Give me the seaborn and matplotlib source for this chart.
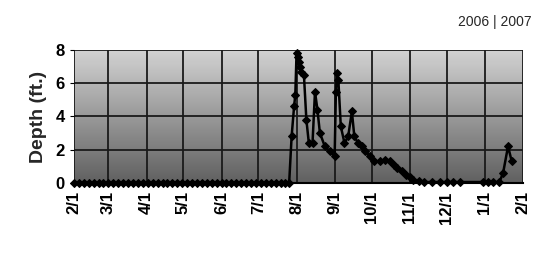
import numpy as np
import pandas as pd
import matplotlib
matplotlib.use("Agg")
import matplotlib.pyplot as plt
import matplotlib.dates as mdates
import seaborn as sns

# depth readings (ft.), Feb 2006 - Jan 2007
dates = [
    "2006-02-01", "2006-02-05", "2006-02-09", "2006-02-13", "2006-02-17", "2006-02-21", "2006-02-25",
    "2006-03-01", "2006-03-05", "2006-03-09", "2006-03-13", "2006-03-17", "2006-03-21", "2006-03-25", "2006-03-29",
    "2006-04-02", "2006-04-06", "2006-04-10", "2006-04-14", "2006-04-18", "2006-04-22", "2006-04-26", "2006-04-30",
    "2006-05-04", "2006-05-08", "2006-05-12", "2006-05-16", "2006-05-20", "2006-05-24", "2006-05-28",
    "2006-06-01", "2006-06-05", "2006-06-09", "2006-06-13", "2006-06-17", "2006-06-21", "2006-06-25", "2006-06-29",
    "2006-07-03", "2006-07-07", "2006-07-11", "2006-07-15", "2006-07-19", "2006-07-23", "2006-07-26",
    "2006-07-28", "2006-07-30", "2006-07-31",
    "2006-08-01", "2006-08-02", "2006-08-03", "2006-08-04", "2006-08-05", "2006-08-07", "2006-08-09",
    "2006-08-11", "2006-08-14", "2006-08-16", "2006-08-18", "2006-08-20", "2006-08-24", "2006-08-28",
    "2006-09-01", "2006-09-02", "2006-09-03", "2006-09-04", "2006-09-06", "2006-09-09", "2006-09-12",
    "2006-09-15", "2006-09-17", "2006-09-20", "2006-09-23", "2006-09-26", "2006-09-30",
    "2006-10-03", "2006-10-08", "2006-10-12", "2006-10-16", "2006-10-19", "2006-10-22", "2006-10-26", "2006-10-29",
    "2006-11-01", "2006-11-04", "2006-11-09", "2006-11-13", "2006-11-19", "2006-11-26",
    "2006-12-01", "2006-12-06", "2006-12-12", "2006-12-31",
    "2007-01-04", "2007-01-08", "2007-01-13", "2007-01-16", "2007-01-20", "2007-01-23",
]
depth = [
    0, 0, 0, 0, 0, 0, 0,
    0, 0, 0, 0, 0, 0, 0, 0,
    0, 0, 0, 0, 0, 0, 0, 0,
    0, 0, 0, 0, 0, 0, 0,
    0, 0, 0, 0, 0, 0, 0, 0,
    0, 0, 0, 0, 0, 0, 0,
    2.8, 4.6, 5.3,
    7.8, 7.6, 7.3, 7.0, 6.7, 6.5, 3.8,
    2.4, 2.4, 5.5, 4.4, 3.0, 2.2, 1.9,
    1.6, 5.5, 6.6, 6.2, 3.4, 2.4, 2.8,
    4.3, 2.8, 2.4, 2.2, 1.9, 1.6,
    1.3, 1.3, 1.4, 1.3, 1.1, 0.9, 0.7, 0.5,
    0.35, 0.15, 0.1, 0.05, 0.05, 0.05,
    0.05, 0.05, 0.05, 0.05,
    0.05, 0.05, 0.05, 0.6, 2.2, 1.3,
]
yticks = [0, 2, 4, 6, 8]

df = pd.DataFrame({"date": pd.to_datetime(dates), "depth": depth})

sns.set_style("white")
plt.rcParams["font.family"] = ["Liberation Sans", "DejaVu Sans"]

fig = plt.figure(figsize=(5.44, 2.62), dpi=100)
ax = fig.add_axes([0.136, 0.302, 0.825, 0.507])

x0, x1 = mdates.date2num(pd.Timestamp("2006-02-01")), mdates.date2num(pd.Timestamp("2007-02-01"))

# grey gradient fill behind the plot (dark at top)
grad = np.linspace(0.38, 0.82, 64).reshape(-1, 1)
ax.imshow(grad, extent=[x0, x1, 8, 0], aspect="auto", cmap="gray", vmin=0, vmax=1,
          zorder=0, interpolation="bilinear")

sns.lineplot(data=df, x="date", y="depth", color="black", linewidth=1.8,
             marker="D", markersize=4.5, markeredgecolor="black", ax=ax,
             zorder=3, clip_on=False)

ax.set_xlim(x0, x1)
ax.set_ylim(0, 8)
ax.set_yticks(yticks)
ax.xaxis.set_major_locator(mdates.MonthLocator())
ax.xaxis.set_major_formatter(mdates.DateFormatter("%-m/%-d"))
ax.grid(True, color="#1a1a1a", linewidth=1.3, zorder=1)
ax.set_axisbelow(True)

for side in ["top", "right", "left"]:
    ax.spines[side].set_visible(False)
ax.spines["bottom"].set_color("black")
ax.spines["bottom"].set_linewidth(1.5)

ax.tick_params(axis="x", labelrotation=90, labelsize=12, length=0, pad=6, colors="black")
ax.tick_params(axis="y", labelsize=12, length=3, colors="black", left=True)
for lbl in ax.get_xticklabels() + ax.get_yticklabels():
    lbl.set_fontweight("bold")

ax.set_xlabel("")
ax.set_ylabel("Depth (ft.)", fontsize=14, fontweight="bold", labelpad=6)

fig.text(0.978, 0.915, "2006 | 2007", ha="right", va="center", fontsize=10)

fig.savefig("out.png", dpi=100)
